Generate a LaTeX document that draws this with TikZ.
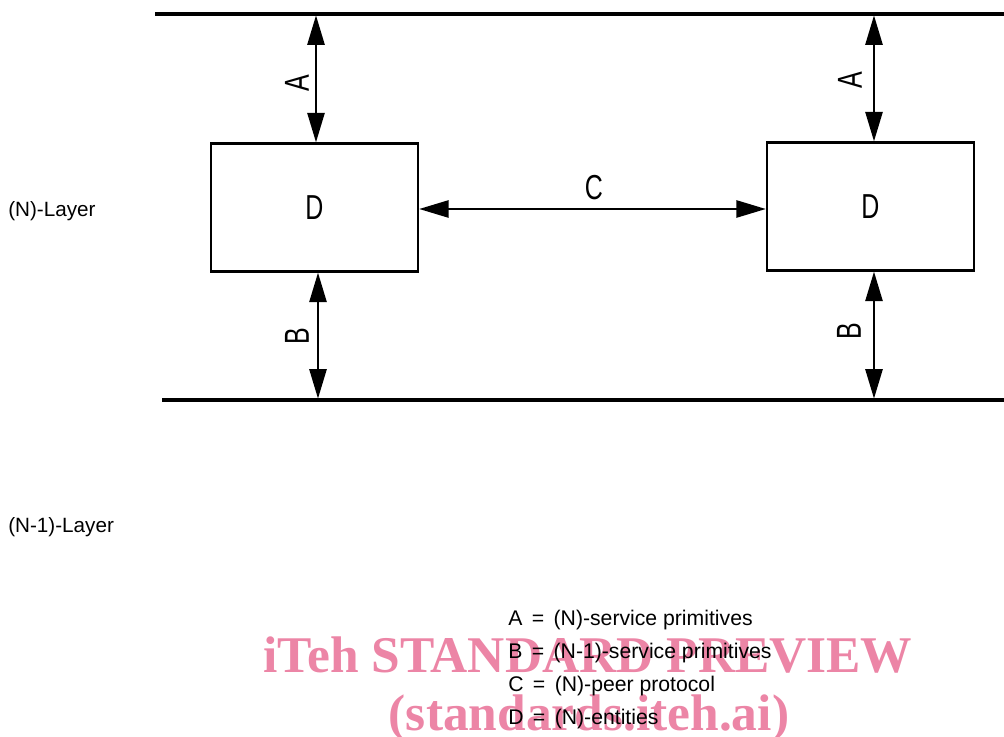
\documentclass[tikz,border=0pt]{standalone}
\usepackage{fontspec}
\setmainfont{Liberation Sans}
\newfontfamily\wmfont{Liberation Serif}
\newfontfamily\dinfont[FakeStretch=0.72]{Liberation Sans}
\usetikzlibrary{arrows.meta}
\definecolor{wmpink}{RGB}{236,133,166}
\begin{document}
\begin{tikzpicture}[x=0.75pt,y=-0.75pt,
  layerline/.style={line width=2.3pt},
  entity/.style={draw,line width=1.9pt,minimum width=155.25pt,minimum height=96pt,inner sep=0pt,font=\dinfont\fontsize{26}{28}\selectfont},
  prim/.style={line width=1.1pt,{Triangle[length=22pt,width=13pt]}-{Triangle[length=22pt,width=13pt]}},
  letter/.style={font=\dinfont\fontsize{26}{28}\selectfont,inner sep=0pt},
  layertext/.style={anchor=west,font=\fontsize{15.5}{18}\selectfont,inner sep=0pt},
  legend/.style={anchor=west,font=\fontsize{15.9}{18}\selectfont,inner sep=0pt},
  wm/.style={text=wmpink,inner sep=0pt,anchor=base,font=\wmfont\bfseries\fontsize{38.6}{40}\selectfont}]
\useasboundingbox (0,0) rectangle (1004,737);
% watermark
\node[wm] (wm1) at (588,673) {iTeh STANDARD PREVIEW};
\node[wm] (wm2) at (589,730) {(standards.iteh.ai)};
% layer boundaries
\coordinate (tl) at (155,14);
\coordinate (tr) at (1004,14);
\coordinate (bl) at (162,400);
\coordinate (br) at (1004,400);
\draw[layerline] (tl) -- (tr);
\draw[layerline] (bl) -- (br);
% entities
\node[entity] (e1) at (314.5,207.5) {D};
\node[entity] (e2) at (870.5,206.5) {D};
% service primitives
\coordinate (a1) at (316,15.5);
\coordinate (a2) at (874,15.5);
\coordinate (b1) at (318,398.5);
\coordinate (b2) at (874,398.5);
\draw[prim] (a1) -- (a1 |- e1.north);
\draw[prim] (a2) -- (a2 |- e2.north);
\draw[prim] (b1 |- e1.south) -- (b1);
\draw[prim] (b2 |- e2.south) -- (b2);
\node[letter,rotate=90] (la1) at (297,83) {A};
\node[letter,rotate=90] (la2) at (850,80) {A};
\node[letter,rotate=90] (lb1) at (297,336) {B};
\node[letter,rotate=90] (lb2) at (849,331) {B};
% peer protocol
\coordinate (c1) at (0,209);
\draw[prim] (e1.east |- c1) -- (e2.west |- c1);
\node[letter] (lc) at (594,188) {C};
% layer names
\node[layertext] (nl) at (8,211) {(N)-Layer};
\node[layertext] (n1l) at (8,527) {(N-1)-Layer};
% legend
\node[legend] (ka) at (508,620) {A \,=\, (N)-service primitives};
\node[legend] (kb) at (508,653) {B \,=\, (N-1)-service primitives};
\node[legend] (kc) at (508,686) {C \,=\, (N)-peer protocol};
\node[legend] (kd) at (508,719) {D \,=\, (N)-entities};
\end{tikzpicture}
\end{document}
